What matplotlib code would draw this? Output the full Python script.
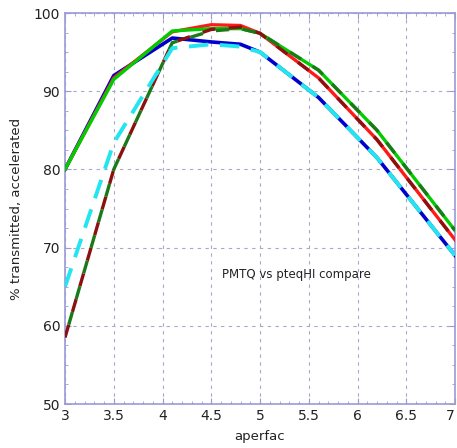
import matplotlib.pyplot as plt
from matplotlib.ticker import AutoMinorLocator

# aperfac values at which the curves are sampled
aperfac = [3.0, 3.5, 4.1, 4.5, 4.8, 5.0, 5.6, 6.2, 7.0]

# solid curves
blue_solid = [80.0, 92.0, 96.8, 96.3, 96.0, 95.0, 89.2, 81.5, 69.0]
green_solid = [80.0, 91.5, 97.7, 98.0, 98.0, 97.4, 92.7, 85.0, 72.2]
red_solid = [80.0, 91.7, 97.6, 98.5, 98.4, 97.4, 91.7, 83.8, 71.0]

# dashed curves
cyan_dash = [65.0, 83.4, 95.5, 96.0, 95.7, 95.0, 89.2, 81.5, 69.0]
dkgreen_dash = [58.5, 80.0, 96.2, 97.7, 98.0, 97.4, 92.7, 85.0, 72.2]
dkred_dash = [58.5, 80.0, 96.2, 97.9, 98.2, 97.4, 91.7, 83.8, 71.0]

fig = plt.figure(figsize=(4.57, 4.48), dpi=100)
ax = fig.add_axes([65 / 457, 1 - 404 / 448, 390 / 457, 391 / 448])

ax.plot(aperfac, blue_solid, color='#0000cc', lw=2.6, zorder=3)
ax.plot(aperfac, red_solid, color='#ff1a1a', lw=2.4, zorder=3)
ax.plot(aperfac, green_solid, color='#00cc00', lw=2.4, zorder=3)
ax.plot(aperfac, dkred_dash, color='#8b1010', lw=2.4, ls=(0, (4, 4)), zorder=4)
ax.plot(aperfac, dkgreen_dash, color='#1a7a1a', lw=2.4, ls=(4, (4, 4)), zorder=4)
ax.plot(aperfac, cyan_dash, color='#22e5f0', lw=2.8, ls=(0, (5, 3)), zorder=5)

ax.set_xlim(3, 7)
ax.set_ylim(50, 100)
ax.set_xticks([3, 3.5, 4, 4.5, 5, 5.5, 6, 6.5, 7])
ax.set_xticklabels(['3', '3.5', '4', '4.5', '5', '5.5', '6', '6.5', '7'])
ax.get_xticklabels()[-1].set_ha('right')
ax.set_yticks([50, 60, 70, 80, 90, 100])
ax.xaxis.set_minor_locator(AutoMinorLocator(5))
ax.yaxis.set_minor_locator(AutoMinorLocator(4))
ax.tick_params(which='both', direction='in', top=True, right=True,
               colors='#9a9ad8', labelcolor='#222222', labelsize=10)
ax.tick_params(which='major', length=4)
ax.tick_params(which='minor', length=2)
for s in ax.spines.values():
    s.set_color('#9a9ad8')
    s.set_linewidth(1.2)
ax.grid(True, which='major', ls=(0, (3, 4)), color='#a8a8c8', lw=0.8)

ax.text(4.61, 66.5, 'PMTQ vs pteqHI compare', fontsize=8.5, color='#222222',
        va='center', ha='left')
ax.set_xlabel('aperfac', fontsize=9.5, color='#222222', labelpad=5)
ax.set_ylabel('% transmitted, accelerated', fontsize=9.5, color='#222222',
              labelpad=8)

fig.savefig('out.png', dpi=100)
